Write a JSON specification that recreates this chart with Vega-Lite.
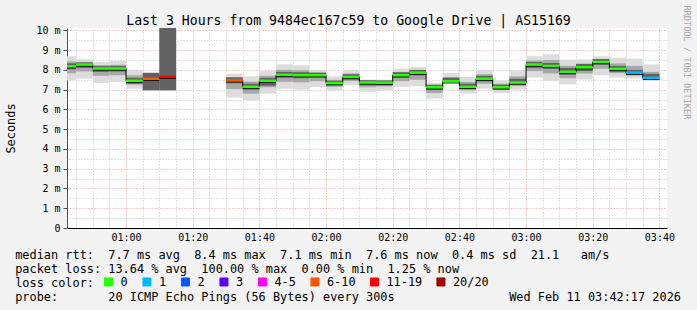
{
"$schema": "https://vega.github.io/schema/vega-lite/v6.json",
"width": 600, "height": 200,
"autosize": {"type": "none"},
"padding": {"left": 67, "top": 28, "right": 30, "bottom": 82},
"background": "#f2f2f2",
"view": {"fill": "#ffffff", "stroke": null},
"config": {
  "font": "DejaVu Sans Mono",
  "axis": {"labelFont": "DejaVu Sans Mono", "titleFont": "DejaVu Sans Mono", "labelColor": "#000000", "titleColor": "#000000", "titleFontWeight": "normal"}
},
"data": {"values": [
{"t0":"2026-02-11T00:40:00Z","t1":"2026-02-11T00:45:00Z","med":8.18,"loss":"0","lo":7.47,"hi":8.69,"q1":7.83,"q3":8.43,"m1":8.03,"m2":8.33,"prev":null},
{"t0":"2026-02-11T00:45:00Z","t1":"2026-02-11T00:50:00Z","med":8.27,"loss":"0","lo":7.56,"hi":8.54,"q1":7.92,"q3":8.40,"m1":8.10,"m2":8.38,"prev":8.18},
{"t0":"2026-02-11T00:50:00Z","t1":"2026-02-11T00:55:00Z","med":8.07,"loss":"0","lo":7.34,"hi":8.40,"q1":7.70,"q3":8.23,"m1":7.90,"m2":8.20,"prev":8.27},
{"t0":"2026-02-11T00:55:00Z","t1":"2026-02-11T01:00:00Z","med":8.07,"loss":"0","lo":7.39,"hi":8.45,"q1":7.73,"q3":8.26,"m1":7.92,"m2":8.20,"prev":8.07},
{"t0":"2026-02-11T01:00:00Z","t1":"2026-02-11T01:05:00Z","med":7.45,"loss":"0","lo":7.05,"hi":8.01,"q1":7.25,"q3":7.73,"m1":7.30,"m2":7.60,"prev":8.07},
{"t0":"2026-02-11T01:05:00Z","t1":"2026-02-11T01:10:00Z","med":7.55,"loss":"6-10","lo":6.97,"hi":7.85,"q1":6.97,"q3":7.85,"m1":6.97,"m2":7.85,"prev":7.45},
{"t0":"2026-02-11T01:10:00Z","t1":"2026-02-11T01:15:00Z","med":7.65,"loss":"11-19","lo":6.97,"hi":10.2,"q1":6.97,"q3":10.2,"m1":6.97,"m2":10.2,"prev":7.55},
{"t0":"2026-02-11T01:30:00Z","t1":"2026-02-11T01:35:00Z","med":7.47,"loss":"6-10","lo":6.60,"hi":7.81,"q1":7.03,"q3":7.64,"m1":7.32,"m2":7.62,"prev":null},
{"t0":"2026-02-11T01:35:00Z","t1":"2026-02-11T01:40:00Z","med":7.14,"loss":"0","lo":6.46,"hi":7.68,"q1":6.80,"q3":7.41,"m1":7.00,"m2":7.30,"prev":7.47},
{"t0":"2026-02-11T01:40:00Z","t1":"2026-02-11T01:45:00Z","med":7.45,"loss":"0","lo":6.80,"hi":7.94,"q1":7.12,"q3":7.70,"m1":7.20,"m2":7.60,"prev":7.14},
{"t0":"2026-02-11T01:45:00Z","t1":"2026-02-11T01:50:00Z","med":7.75,"loss":"0","lo":7.05,"hi":8.28,"q1":7.40,"q3":8.00,"m1":7.60,"m2":7.90,"prev":7.45},
{"t0":"2026-02-11T01:50:00Z","t1":"2026-02-11T01:55:00Z","med":7.73,"loss":"0","lo":7.00,"hi":8.23,"q1":7.37,"q3":7.98,"m1":7.58,"m2":7.88,"prev":7.75},
{"t0":"2026-02-11T01:55:00Z","t1":"2026-02-11T02:00:00Z","med":7.73,"loss":"0","lo":7.14,"hi":8.01,"q1":7.43,"q3":7.87,"m1":7.60,"m2":7.85,"prev":7.73},
{"t0":"2026-02-11T02:00:00Z","t1":"2026-02-11T02:05:00Z","med":7.33,"loss":"0","lo":6.97,"hi":7.68,"q1":7.15,"q3":7.50,"m1":7.20,"m2":7.45,"prev":7.73},
{"t0":"2026-02-11T02:05:00Z","t1":"2026-02-11T02:10:00Z","med":7.64,"loss":"0","lo":7.22,"hi":8.01,"q1":7.43,"q3":7.82,"m1":7.50,"m2":7.78,"prev":7.33},
{"t0":"2026-02-11T02:10:00Z","t1":"2026-02-11T02:15:00Z","med":7.36,"loss":"0","lo":6.89,"hi":7.51,"q1":7.12,"q3":7.44,"m1":7.22,"m2":7.48,"prev":7.64},
{"t0":"2026-02-11T02:15:00Z","t1":"2026-02-11T02:20:00Z","med":7.35,"loss":"0","lo":6.97,"hi":7.51,"q1":7.16,"q3":7.43,"m1":7.22,"m2":7.47,"prev":7.36},
{"t0":"2026-02-11T02:20:00Z","t1":"2026-02-11T02:25:00Z","med":7.73,"loss":"0","lo":7.14,"hi":8.06,"q1":7.43,"q3":7.90,"m1":7.60,"m2":7.88,"prev":7.35},
{"t0":"2026-02-11T02:25:00Z","t1":"2026-02-11T02:30:00Z","med":7.86,"loss":"0","lo":7.17,"hi":8.15,"q1":7.50,"q3":8.00,"m1":7.72,"m2":8.00,"prev":7.73},
{"t0":"2026-02-11T02:30:00Z","t1":"2026-02-11T02:35:00Z","med":7.12,"loss":"0","lo":6.55,"hi":7.34,"q1":6.83,"q3":7.23,"m1":6.98,"m2":7.25,"prev":7.86},
{"t0":"2026-02-11T02:35:00Z","t1":"2026-02-11T02:40:00Z","med":7.42,"loss":"0","lo":7.31,"hi":7.85,"q1":7.36,"q3":7.64,"m1":7.36,"m2":7.60,"prev":7.12},
{"t0":"2026-02-11T02:40:00Z","t1":"2026-02-11T02:45:00Z","med":7.14,"loss":"0","lo":6.80,"hi":7.64,"q1":6.97,"q3":7.39,"m1":7.02,"m2":7.30,"prev":7.42},
{"t0":"2026-02-11T02:45:00Z","t1":"2026-02-11T02:50:00Z","med":7.55,"loss":"0","lo":7.05,"hi":8.01,"q1":7.30,"q3":7.78,"m1":7.42,"m2":7.70,"prev":7.14},
{"t0":"2026-02-11T02:50:00Z","t1":"2026-02-11T02:55:00Z","med":7.12,"loss":"0","lo":6.83,"hi":7.47,"q1":6.97,"q3":7.30,"m1":7.00,"m2":7.25,"prev":7.55},
{"t0":"2026-02-11T02:55:00Z","t1":"2026-02-11T03:00:00Z","med":7.36,"loss":"0","lo":7.00,"hi":7.98,"q1":7.18,"q3":7.67,"m1":7.25,"m2":7.55,"prev":7.12},
{"t0":"2026-02-11T03:00:00Z","t1":"2026-02-11T03:05:00Z","med":8.27,"loss":"0","lo":7.61,"hi":8.69,"q1":7.94,"q3":8.48,"m1":8.10,"m2":8.40,"prev":7.36},
{"t0":"2026-02-11T03:05:00Z","t1":"2026-02-11T03:10:00Z","med":8.20,"loss":"0","lo":7.44,"hi":8.79,"q1":7.82,"q3":8.50,"m1":8.05,"m2":8.35,"prev":8.27},
{"t0":"2026-02-11T03:10:00Z","t1":"2026-02-11T03:15:00Z","med":7.90,"loss":"0","lo":7.27,"hi":8.52,"q1":7.58,"q3":8.21,"m1":7.75,"m2":8.10,"prev":8.20},
{"t0":"2026-02-11T03:15:00Z","t1":"2026-02-11T03:20:00Z","med":8.13,"loss":"0","lo":7.51,"hi":8.52,"q1":7.82,"q3":8.33,"m1":7.95,"m2":8.30,"prev":7.90},
{"t0":"2026-02-11T03:20:00Z","t1":"2026-02-11T03:25:00Z","med":8.40,"loss":"0","lo":7.73,"hi":8.69,"q1":8.06,"q3":8.55,"m1":8.25,"m2":8.55,"prev":8.13},
{"t0":"2026-02-11T03:25:00Z","t1":"2026-02-11T03:30:00Z","med":8.05,"loss":"0","lo":7.61,"hi":8.62,"q1":7.83,"q3":8.33,"m1":7.90,"m2":8.20,"prev":8.40},
{"t0":"2026-02-11T03:30:00Z","t1":"2026-02-11T03:35:00Z","med":7.86,"loss":"1","lo":7.56,"hi":8.57,"q1":7.71,"q3":8.20,"m1":7.75,"m2":8.00,"prev":8.05},
{"t0":"2026-02-11T03:35:00Z","t1":"2026-02-11T03:40:00Z","med":7.60,"loss":"1","lo":7.44,"hi":8.28,"q1":7.52,"q3":7.90,"m1":7.52,"m2":7.80,"prev":7.86}
]},
"layer": [
{"mark": {"type": "rect", "color": "#dcdcdc", "clip": true},
 "encoding": {
  "x": {"field": "t0", "type": "temporal",
        "scale": {"type": "utc", "domain": [{"year":2026,"month":2,"date":11,"hours":0,"minutes":42,"seconds":17,"utc":true},{"year":2026,"month":2,"date":11,"hours":3,"minutes":42,"seconds":17,"utc":true}]},
        "axis": {"orient": "top", "grid": true, "gridColor": "#c8c8c8", "gridDash": [1,2], "ticks": false, "labels": false, "domain": false,
          "title": "Last 3 Hours from 9484ec167c59 to Google Drive | AS15169", "titleFontSize": 13.2, "titleX": 281, "titleY": -4, "titleAlign": "center", "titleBaseline": "alphabetic",
          "values": [
            {"year":2026,"month":2,"date":11,"hours":0,"minutes":45,"utc":true},
            {"year":2026,"month":2,"date":11,"hours":0,"minutes":50,"utc":true},
            {"year":2026,"month":2,"date":11,"hours":0,"minutes":55,"utc":true},
            {"year":2026,"month":2,"date":11,"hours":1,"minutes":5,"utc":true},
            {"year":2026,"month":2,"date":11,"hours":1,"minutes":10,"utc":true},
            {"year":2026,"month":2,"date":11,"hours":1,"minutes":15,"utc":true},
            {"year":2026,"month":2,"date":11,"hours":1,"minutes":25,"utc":true},
            {"year":2026,"month":2,"date":11,"hours":1,"minutes":30,"utc":true},
            {"year":2026,"month":2,"date":11,"hours":1,"minutes":35,"utc":true},
            {"year":2026,"month":2,"date":11,"hours":1,"minutes":45,"utc":true},
            {"year":2026,"month":2,"date":11,"hours":1,"minutes":50,"utc":true},
            {"year":2026,"month":2,"date":11,"hours":1,"minutes":55,"utc":true},
            {"year":2026,"month":2,"date":11,"hours":2,"minutes":5,"utc":true},
            {"year":2026,"month":2,"date":11,"hours":2,"minutes":10,"utc":true},
            {"year":2026,"month":2,"date":11,"hours":2,"minutes":15,"utc":true},
            {"year":2026,"month":2,"date":11,"hours":2,"minutes":25,"utc":true},
            {"year":2026,"month":2,"date":11,"hours":2,"minutes":30,"utc":true},
            {"year":2026,"month":2,"date":11,"hours":2,"minutes":35,"utc":true},
            {"year":2026,"month":2,"date":11,"hours":2,"minutes":45,"utc":true},
            {"year":2026,"month":2,"date":11,"hours":2,"minutes":50,"utc":true},
            {"year":2026,"month":2,"date":11,"hours":2,"minutes":55,"utc":true},
            {"year":2026,"month":2,"date":11,"hours":3,"minutes":5,"utc":true},
            {"year":2026,"month":2,"date":11,"hours":3,"minutes":10,"utc":true},
            {"year":2026,"month":2,"date":11,"hours":3,"minutes":15,"utc":true},
            {"year":2026,"month":2,"date":11,"hours":3,"minutes":25,"utc":true},
            {"year":2026,"month":2,"date":11,"hours":3,"minutes":30,"utc":true},
            {"year":2026,"month":2,"date":11,"hours":3,"minutes":35,"utc":true}
          ]}},
  "x2": {"field": "t1"},
  "y": {"field": "lo", "type": "quantitative", "scale": {"domain": [0, 10.12], "nice": false, "zero": false},
        "axis": {"orient": "right", "grid": true, "gridColor": "#c8c8c8", "gridDash": [1,2], "ticks": false, "labels": false, "domain": false,
          "values": [0.5,1.5,2.5,3.5,4.5,5.5,6.5,7.5,8.5,9.5],
          "title": "RRDTOOL / TOBI OETIKER", "titleAngle": 90, "titleX": 19, "titleY": -23, "titleAlign": "left", "titleBaseline": "middle", "titleFontSize": 8.6, "titleColor": "#a8a8a8"}},
  "y2": {"field": "hi"}
 }},
{"mark": {"type": "rect", "color": "#a8a8a8", "clip": true},
 "encoding": {
  "x": {"field": "t0", "type": "temporal", "axis": null},
  "x2": {"field": "t1"},
  "y": {"field": "q1", "type": "quantitative", "axis": null},
  "y2": {"field": "q3"}
 }},
{"mark": {"type": "rect", "color": "#626262", "clip": true},
 "encoding": {
  "x": {"field": "t0", "type": "temporal", "axis": null},
  "x2": {"field": "t1"},
  "y": {"field": "m1", "type": "quantitative", "axis": null},
  "y2": {"field": "m2"}
 }},
{"transform": [{"filter": "datum.prev != null"}],
 "mark": {"type": "rule", "color": "#000000", "strokeWidth": 1, "clip": true},
 "encoding": {
  "x": {"field": "t0", "type": "temporal",
        "axis": {"orient": "bottom", "grid": true, "gridColor": "#f09a9a", "gridDash": [1,2], "ticks": false, "labelFontSize": 10, "labelPadding": 4, "format": "%H:%M", "domainColor": "#000000", "domainWidth": 1,
          "values": [
            {"year":2026,"month":2,"date":11,"hours":1,"minutes":0,"utc":true},
            {"year":2026,"month":2,"date":11,"hours":1,"minutes":20,"utc":true},
            {"year":2026,"month":2,"date":11,"hours":1,"minutes":40,"utc":true},
            {"year":2026,"month":2,"date":11,"hours":2,"minutes":0,"utc":true},
            {"year":2026,"month":2,"date":11,"hours":2,"minutes":20,"utc":true},
            {"year":2026,"month":2,"date":11,"hours":2,"minutes":40,"utc":true},
            {"year":2026,"month":2,"date":11,"hours":3,"minutes":0,"utc":true},
            {"year":2026,"month":2,"date":11,"hours":3,"minutes":20,"utc":true},
            {"year":2026,"month":2,"date":11,"hours":3,"minutes":40,"utc":true}
          ],
          "title": ["median rtt:\u00a0\u00a07.7 ms avg\u00a0\u00a08.4 ms max\u00a0\u00a07.1 ms min\u00a0\u00a07.6 ms now\u00a0\u00a00.4 ms sd\u00a0\u00a021.1\u00a0\u00a0\u00a0am/s",
                    "packet loss: 13.64 % avg\u00a0\u00a0100.00 % max\u00a0\u00a00.00 % min\u00a0\u00a01.25 % now",
                    "loss color:",
                    "probe:\u00a0\u00a0\u00a0\u00a0\u00a0\u00a0\u00a020 ICMP Echo Pings (56 Bytes) every 300s\u00a0\u00a0\u00a0\u00a0\u00a0\u00a0\u00a0\u00a0\u00a0\u00a0\u00a0\u00a0\u00a0\u00a0\u00a0\u00a0Wed Feb 11 03:42:17 2026"],
          "titleFontSize": 11.9, "titleLineHeight": 14, "titleAlign": "left", "titleAnchor": "start", "titleX": -52.3, "titleY": 30.6, "titleBaseline": "alphabetic"}},
  "y": {"field": "prev", "type": "quantitative",
        "axis": {"orient": "left", "grid": true, "gridColor": "#f09a9a", "gridDash": [1,2], "ticks": true, "tickSize": 4, "tickColor": "#505050", "labelFontSize": 10, "labelPadding": 3, "domainColor": "#505050",
          "values": [0,1,2,3,4,5,6,7,8,9,10],
          "labelExpr": "datum.value == 0 ? '0' : datum.value + ' m'",
          "title": "Seconds", "titleFontSize": 11.9, "titleAngle": -90, "titleX": -57, "titleY": 100, "titleAlign": "center", "titleBaseline": "middle"}},
  "y2": {"field": "med"}
 }},
{"mark": {"type": "rule", "color": "#000000", "strokeWidth": 1, "yOffset": 1.5, "clip": true},
 "encoding": {
  "x": {"field": "t0", "type": "temporal", "axis": null},
  "x2": {"field": "t1"},
  "y": {"field": "med", "type": "quantitative", "axis": null}
 }},
{"mark": {"type": "rule", "strokeWidth": 2.5, "clip": true},
 "encoding": {
  "x": {"field": "t0", "type": "temporal", "axis": null},
  "x2": {"field": "t1"},
  "y": {"field": "med", "type": "quantitative", "axis": null},
  "color": {"field": "loss", "type": "nominal",
    "scale": {"domain": ["0","1","2","3","4-5","6-10","11-19","20/20"], "range": ["#26ff00","#00b8ff","#0059ff","#5e00ff","#ff00ff","#ff5500","#ff0000","#a00000"]},
    "legend": {"title": null, "orient": "none", "legendX": 35.5, "legendY": 248, "direction": "horizontal", "columns": 8,
      "labelFont": "DejaVu Sans Mono", "labelFontSize": 11.9, "labelColor": "#000000", "labelOffset": 6, "columnPadding": 11.5, "padding": 0,
      "symbolType": "square", "symbolSize": 64, "symbolStrokeColor": "#000000", "symbolStrokeWidth": 1,
      "encode": {"symbols": {"update": {"fill": {"scale": "color", "field": "value"}, "stroke": {"value": "#000000"}, "opacity": {"value": 1}, "fillOpacity": {"value": 1}}}}}}
 }}
],
"resolve": {"axis": {"x": "independent", "y": "independent"}}
}
